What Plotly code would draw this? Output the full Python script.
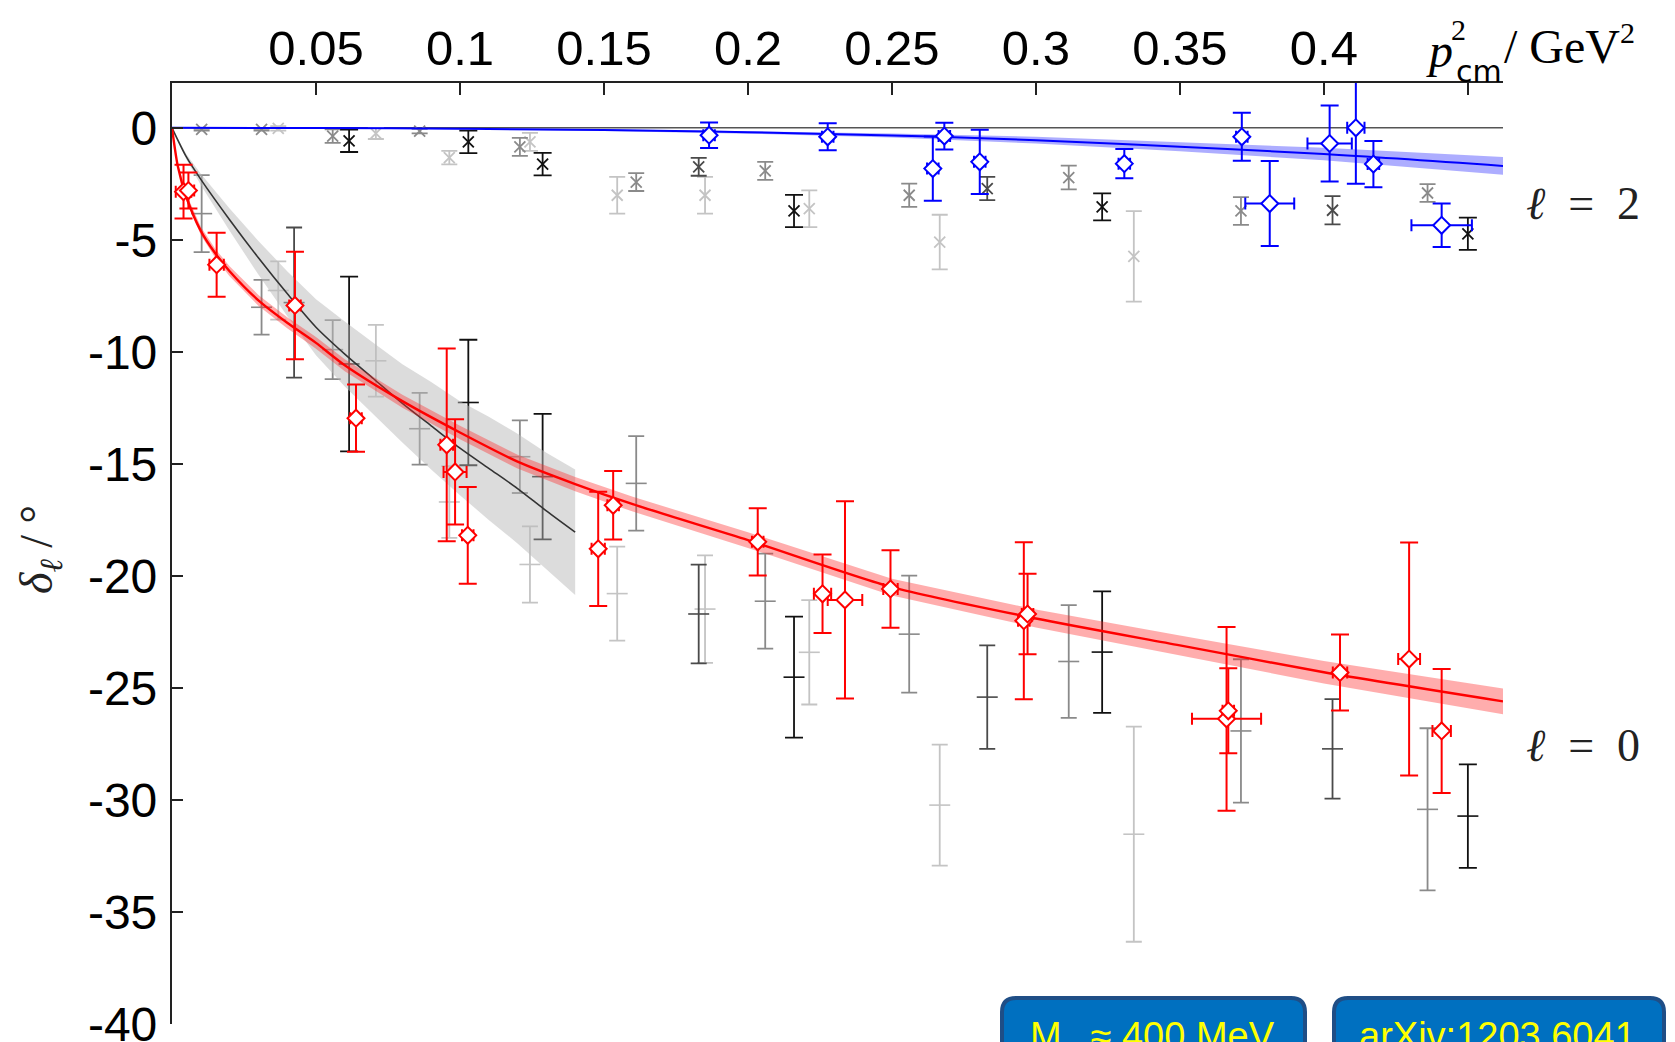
import plotly.graph_objects as go

# ---------------- axis ticks ----------------
x_tick_vals = [0.05, 0.10, 0.15, 0.20, 0.25, 0.30, 0.35, 0.40, 0.45]
x_tick_text = ["0.05", "0.1", "0.15", "0.2", "0.25", "0.3", "0.35", "0.4", ""]
y_tick_vals = [0, -5, -10, -15, -20, -25, -30, -35, -40]
y_tick_text = ["0", "-5", "-10", "-15", "-20", "-25", "-30", "-35", "-40"]

# ---------------- lattice data, l = 0 (red) ----------------
red_x = [0.0040, 0.0057, 0.0155, 0.0427, 0.0639, 0.0954, 0.0983, 0.1027, 0.1480, 0.1532,
         0.2034, 0.2259, 0.2337, 0.2495, 0.2958, 0.2971, 0.3662, 0.3668, 0.4056, 0.4296, 0.4409]
red_y = [-2.85, -2.80, -6.11, -7.93, -12.96, -14.15, -15.36, -18.19, -18.79, -16.85,
         -18.48, -20.80, -21.07, -20.58, -22.00, -21.70, -26.38, -26.02, -24.31, -23.71, -26.92]
red_ey = [1.20, 0.80, 1.43, 2.40, 1.50, 4.30, 2.35, 2.16, 2.55, 1.53,
          1.50, 1.75, 4.40, 1.73, 3.50, 1.80, 4.10, 1.90, 1.70, 5.20, 2.77]
red_ex = [0.0027, 0.0020, 0.0025, 0.0020, 0.0020, 0.0022, 0.0040, 0.0020, 0.0023, 0.0020,
          0.0020, 0.0030, 0.0060, 0.0025, 0.0020, 0.0020, 0.0120, 0.0020, 0.0025, 0.0038, 0.0032]

# ---------------- lattice data, l = 2 (blue) ----------------
blue_x = [0.1865, 0.2277, 0.2642, 0.2682, 0.2805, 0.3307, 0.3715, 0.3812, 0.4020, 0.4111, 0.4172, 0.4409]
blue_y = [-0.33, -0.40, -1.82, -0.37, -1.52, -1.60, -0.40, -3.38, -0.70, 0.00, -1.62, -4.35]
blue_ey = [0.57, 0.60, 1.43, 0.60, 1.43, 0.65, 1.07, 1.90, 1.70, 2.50, 1.03, 0.97]
blue_ex = [0.0020, 0.0020, 0.0020, 0.0020, 0.0020, 0.0020, 0.0020, 0.0085, 0.0077, 0.0030, 0.0020, 0.0105]

# ---------------- experimental data sets ----------------
light_x = [0.0369, 0.0708, 0.0963, 0.1243, 0.1546, 0.1851, 0.2213, 0.2666, 0.3340]
light_l0_y = [-7.26, -10.40, -16.70, -19.49, -20.79, -21.48, -23.41, -30.23, -31.53]
light_l0_ey = [1.30, 1.60, 1.60, 1.70, 2.10, 2.40, 2.33, 2.70, 4.80]
light_l2_y = [-0.03, -0.25, -1.33, -0.63, -3.01, -3.01, -3.61, -5.10, -5.74]
light_l2_ey = [0.10, 0.25, 0.30, 0.40, 0.82, 0.82, 0.82, 1.22, 2.02]

gray_x = [0.0103, 0.0311, 0.0558, 0.0860, 0.1208, 0.1612, 0.2060, 0.2560, 0.3114, 0.3712, 0.4360]
gray_l0_y = [-3.83, -8.01, -9.90, -13.43, -14.68, -15.87, -21.13, -22.60, -23.82, -26.92, -30.42]
gray_l0_ey = [1.72, 1.22, 1.32, 1.60, 1.62, 2.11, 2.12, 2.61, 2.52, 3.20, 3.62]
gray_l2_y = [-0.07, -0.07, -0.37, -0.15, -0.85, -2.42, -1.92, -3.01, -2.22, -3.71, -2.91]
gray_l2_ey = [0.05, 0.05, 0.30, 0.10, 0.40, 0.40, 0.40, 0.52, 0.53, 0.62, 0.40]

black_x = [0.0615, 0.1029, 0.1287, 0.2160, 0.3230, 0.4500]
black_l0_y = [-10.54, -12.26, -15.57, -24.52, -23.40, -30.72]
black_l0_ey = [3.90, 2.80, 2.80, 2.70, 2.71, 2.31]
black_l2_y = [-0.58, -0.63, -1.62, -3.71, -3.53, -4.73]
black_l2_ey = [0.50, 0.50, 0.50, 0.72, 0.60, 0.72]

dark_l0_x = [0.0424, 0.1829, 0.2831, 0.4030]
dark_l0_y = [-7.80, -21.70, -25.41, -27.72]
dark_l0_ey = [3.35, 2.20, 2.31, 2.22]
dark_l2_x = [0.1829, 0.2831, 0.4030]
dark_l2_y = [-1.74, -2.71, -3.68]
dark_l2_ey = [0.40, 0.52, 0.63]

# ---------------- fit curves ----------------
red_fit_x = [0, 0.002, 0.005, 0.01, 0.015, 0.02, 0.03, 0.04, 0.05, 0.06, 0.08, 0.10,
             0.12, 0.14, 0.16, 0.20, 0.25, 0.30, 0.35, 0.40, 0.4622]
red_fit_y = [0, -1.7, -3.1, -4.6, -5.6, -6.4, -7.7, -8.7, -9.6, -10.6, -12.2, -13.6,
             -14.9, -15.9, -16.8, -18.4, -20.5, -21.9, -23.1, -24.3, -25.6]
red_fit_err = [0, 0.10, 0.15, 0.18, 0.20, 0.22, 0.24, 0.25, 0.26, 0.27, 0.29, 0.30,
               0.31, 0.32, 0.33, 0.35, 0.37, 0.40, 0.44, 0.50, 0.58]

blue_fit_x = [0, 0.05, 0.10, 0.15, 0.20, 0.25, 0.30, 0.35, 0.40, 0.4622]
blue_fit_y = [0, -0.01, -0.04, -0.10, -0.20, -0.34, -0.55, -0.85, -1.17, -1.70]
blue_fit_err = [0, 0.005, 0.02, 0.04, 0.06, 0.09, 0.15, 0.20, 0.28, 0.40]

chpt_x = [0, 0.005, 0.01, 0.02, 0.03, 0.04, 0.05, 0.06, 0.07, 0.08, 0.09, 0.10, 0.11, 0.12, 0.13, 0.14]
chpt_y = [0, -1.3, -2.3, -4.1, -5.8, -7.4, -8.9, -10.1, -11.2, -12.3, -13.3, -14.3, -15.2, -16.1, -17.1, -18.05]
chpt_err = [0, 0.12, 0.25, 0.5, 0.75, 1.0, 1.25, 1.45, 1.6, 1.75, 1.95, 2.1, 2.3, 2.45, 2.6, 2.8]

# ---------------- figure ----------------
W, H = 1675, 1042
ML, MR, MT, MB = 172, 172, 83, 18

fig = go.Figure()


def band(xs, ys, es, fill):
    bx = list(xs) + list(xs)[::-1]
    by = [y + e for y, e in zip(ys, es)] + [y - e for y, e in zip(ys, es)][::-1]
    return go.Scatter(x=bx, y=by, mode="lines", fill="toself", fillcolor=fill,
                      line=dict(width=0), hoverinfo="skip", showlegend=False)


def exp_l0(xs, ys, es, col, cap):
    return go.Scatter(x=xs, y=ys, mode="markers", showlegend=False,
                      marker=dict(symbol="line-ew", size=15, color=col, line=dict(width=1.6, color=col)),
                      error_y=dict(type="data", array=es, color=col, thickness=1.8, width=cap))


def exp_l2(xs, ys, es, col, cap):
    return go.Scatter(x=xs, y=ys, mode="markers", showlegend=False,
                      marker=dict(symbol="x-thin", size=11, color=col, line=dict(width=1.8, color=col)),
                      error_y=dict(type="data", array=es, color=col, thickness=1.8, width=cap))


LIGHT, GRAY, DARK, BLACK = "#c4c4c4", "#8a8a8a", "#4a4a4a", "#111111"

for xs, y0, e0, y2, e2, c in [
    (light_x, light_l0_y, light_l0_ey, light_l2_y, light_l2_ey, LIGHT),
    (gray_x, gray_l0_y, gray_l0_ey, gray_l2_y, gray_l2_ey, GRAY),
]:
    fig.add_trace(exp_l0(xs, y0, e0, c, 8))
    fig.add_trace(exp_l2(xs, y2, e2, c, 8))

fig.add_trace(exp_l0(dark_l0_x, dark_l0_y, dark_l0_ey, DARK, 8))
fig.add_trace(exp_l2(dark_l2_x, dark_l2_y, dark_l2_ey, DARK, 8))
fig.add_trace(exp_l0(black_x, black_l0_y, black_l0_ey, BLACK, 9))
fig.add_trace(exp_l2(black_x, black_l2_y, black_l2_ey, BLACK, 9))

# ChPT-like black curve with grey band
fig.add_trace(band(chpt_x, chpt_y, chpt_err, "rgba(185,185,185,0.5)"))
fig.add_trace(go.Scatter(x=chpt_x, y=chpt_y, mode="lines",
                         line=dict(color="#333333", width=1.6, shape="spline", smoothing=0.8),
                         hoverinfo="skip", showlegend=False))

# red fit
fig.add_trace(band(red_fit_x, red_fit_y, red_fit_err, "rgba(255,40,40,0.38)"))
fig.add_trace(go.Scatter(x=red_fit_x, y=red_fit_y, mode="lines",
                         line=dict(color="#ff0000", width=2.4, shape="spline", smoothing=0.7),
                         hoverinfo="skip", showlegend=False))

# blue fit
fig.add_trace(band(blue_fit_x, blue_fit_y, blue_fit_err, "rgba(40,40,255,0.38)"))
fig.add_trace(go.Scatter(x=blue_fit_x, y=blue_fit_y, mode="lines",
                         line=dict(color="#0000ff", width=2.0, shape="spline"),
                         hoverinfo="skip", showlegend=False))

# lattice points
fig.add_trace(go.Scatter(x=red_x, y=red_y, mode="markers", showlegend=False,
                         marker=dict(symbol="diamond", size=13, color="white", line=dict(color="#ff0000", width=2)),
                         error_y=dict(type="data", array=red_ey, color="#ff0000", thickness=2, width=9),
                         error_x=dict(type="data", array=red_ex, color="#ff0000", thickness=2, width=6)))
fig.add_trace(go.Scatter(x=blue_x, y=blue_y, mode="markers", showlegend=False,
                         marker=dict(symbol="diamond", size=13, color="white", line=dict(color="#0000ff", width=2)),
                         error_y=dict(type="data", array=blue_ey, color="#0000ff", thickness=2, width=9),
                         error_x=dict(type="data", array=blue_ex, color="#0000ff", thickness=2, width=6)))

fig.add_hline(y=0, line=dict(color="#555555", width=1.4), layer="below")

PW = W - ML - MR
PH = H - MT - MB


def px(xp):
    return (xp - ML) / PW


def py(yp):
    return (H - MB - yp) / PH


serif = "Liberation Serif"
ann = []
# x-axis title pieces
ann.append(dict(text="<i>p</i>", x=px(1424), y=py(50), xanchor="left", yanchor="middle",
                font=dict(family=serif, size=48, color="black")))
ann.append(dict(text="2", x=px(1458), y=py(30), xanchor="center", yanchor="middle",
                font=dict(family=serif, size=30, color="black")))
ann.append(dict(text="cm", x=px(1454), y=py(72), xanchor="left", yanchor="middle",
                font=dict(family="DejaVu Sans", size=30, color="black")))
ann.append(dict(text="/ GeV", x=px(1502), y=py(46), xanchor="left", yanchor="middle",
                font=dict(family=serif, size=48, color="black")))
ann.append(dict(text="2", x=px(1628), y=py(32), xanchor="center", yanchor="middle",
                font=dict(family=serif, size=30, color="black")))
# y-axis title
ann.append(dict(text="<i>δ</i><sub><i>ℓ</i></sub> / °", x=px(40), y=py(550), xanchor="center", yanchor="middle",
                textangle=-90, font=dict(family=serif, size=46, color="#222222")))
# curve labels
ann.append(dict(text="<i>ℓ</i>&nbsp; =&nbsp; 2", x=px(1583), y=py(203), xanchor="center", yanchor="middle",
                font=dict(family=serif, size=46, color="#222222")))
ann.append(dict(text="<i>ℓ</i>&nbsp; =&nbsp; 0", x=px(1583), y=py(745), xanchor="center", yanchor="middle",
                font=dict(family=serif, size=46, color="#222222")))
# boxes text
ann.append(dict(text="M<sub>π</sub> ≈ 400 MeV", x=px(1152), y=py(1013), xanchor="center", yanchor="top",
                font=dict(family="Liberation Sans", size=38, color="#ffff00")))
ann.append(dict(text="arXiv:1203.6041", x=px(1497), y=py(1013), xanchor="center", yanchor="top",
                font=dict(family="Liberation Sans", size=38, color="#ffff00")))
for a in ann:
    a.update(xref="paper", yref="paper", showarrow=False)


def rounded_box(x0, x1, y0, y1, r):
    # pixel coordinates -> paper path
    pts = (f"M {px(x0 + r)},{py(y0)} L {px(x1 - r)},{py(y0)} Q {px(x1)},{py(y0)} {px(x1)},{py(y0 + r)} "
           f"L {px(x1)},{py(y1 - r)} Q {px(x1)},{py(y1)} {px(x1 - r)},{py(y1)} "
           f"L {px(x0 + r)},{py(y1)} Q {px(x0)},{py(y1)} {px(x0)},{py(y1 - r)} "
           f"L {px(x0)},{py(y0 + r)} Q {px(x0)},{py(y0)} {px(x0 + r)},{py(y0)} Z")
    return dict(type="path", path=pts, xref="paper", yref="paper",
                fillcolor="#0070c0", line=dict(color="#1f4e86", width=4), layer="above")


shapes = [rounded_box(1002, 1305, 998, 1110, 14), rounded_box(1334, 1664, 998, 1110, 14)]

fig.update_layout(
    width=W, height=H,
    margin=dict(l=ML, r=MR, t=MT, b=MB, pad=0, autoexpand=False),
    paper_bgcolor="white", plot_bgcolor="white",
    showlegend=False,
    annotations=ann,
    shapes=list(fig.layout.shapes) + shapes,
    xaxis=dict(range=[0, 0.4622], side="top", showline=True, linecolor="#222222", linewidth=2.2,
               ticks="inside", ticklen=12, tickwidth=2, tickcolor="#222222",
               tickvals=x_tick_vals, ticktext=x_tick_text, showgrid=False, zeroline=False,
               tickfont=dict(family="Liberation Sans", size=49, color="black"), ticklabelstandoff=-4,
               ticklabeloverflow="allow", automargin=False),
    yaxis=dict(range=[-40, 2], showline=True, linecolor="#222222", linewidth=2.2,
               ticks="inside", ticklen=11, tickwidth=2, tickcolor="#222222",
               tickvals=y_tick_vals, ticktext=y_tick_text, showgrid=False, zeroline=False,
               tickfont=dict(family="Liberation Sans", size=48, color="black"), ticklabelstandoff=3,
               ticklabeloverflow="allow", automargin=False),
)

fig.write_html("out.html", config={"displayModeBar": False},
               post_script="document.body.style.margin='0px';document.body.style.overflow='hidden';")
